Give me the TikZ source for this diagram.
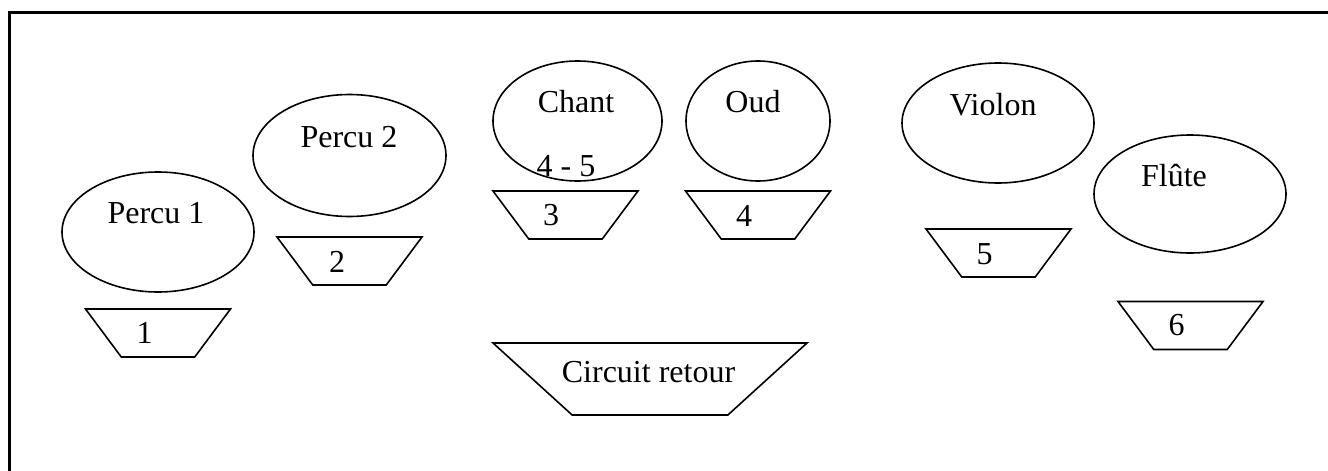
\documentclass[tikz,border=0pt]{standalone}
\usepackage{fontspec}
\setmainfont{Liberation Serif}
\usetikzlibrary{shapes.geometric}
\begin{document}
\begin{tikzpicture}[x = 1pt, y = -1pt,
    instru/.style = {draw, line width = 1.6pt, ellipse, inner sep = 0pt},
    retour/.style = {draw, line width = 1.6pt, trapezium, shape border rotate = 180, trapezium angle = 53.3, trapezium stretches body, minimum width = 145pt, inner xsep = 0pt, inner ysep = 24pt},
    txt/.style = {anchor = base, inner sep = 0pt, font = \fontsize{32}{38}\selectfont}]
    \useasboundingbox (0,0) rectangle (1328,471);
    % Cadre
    \draw[line width = 3pt] (9.5,471) -- (9.5,12.5) -- (1328,12.5);
    % Instruments
    \node[instru, minimum width = 192pt, minimum height = 120pt] (percu1) at (158,232) {};
    \node[txt] (tpercu1) at (156,223) {Percu 1};
    \node[instru, minimum width = 193pt, minimum height = 122pt] (percu2) at (349.5,155.5) {};
    \node[txt] (tpercu2) at (349,147) {Percu 2};
    \node[instru, minimum width = 169pt, minimum height = 120pt] (chant) at (577.5,121) {};
    \node[txt] (tchant) at (576,112) {Chant};
    \node[txt] (tchant45) at (566,176) {4 - 5};
    \node[instru, minimum width = 144pt, minimum height = 120pt] (oud) at (758,121) {};
    \node[txt] (toud) at (753,112) {Oud};
    \node[instru, minimum width = 192pt, minimum height = 120pt] (violon) at (998,123) {};
    \node[txt] (tviolon) at (993,115) {Violon};
    \node[instru, minimum width = 192pt, minimum height = 118pt] (flute) at (1190,194) {};
    \node[txt] (tflute) at (1174,186) {Flûte};
    % Retours
    \node[retour] (ret1) at (158,333) {};
    \node[txt] (tret1) at (144.5,343) {1};
    \node[retour] (ret2) at (349.5,261) {};
    \node[txt] (tret2) at (337,272) {2};
    \node[retour] (ret3) at (565.5,215) {};
    \node[txt] (tret3) at (551,225) {3};
    \node[retour] (ret4) at (758,215) {};
    \node[txt] (tret4) at (744,226) {4};
    \node[retour] (ret5) at (998.5,253) {};
    \node[txt] (tret5) at (984.5,264) {5};
    \node[retour] (ret6) at (1190.5,325.5) {};
    \node[txt] (tret6) at (1176.5,335) {6};
    % Circuit retour
    \node[retour, trapezium angle = 42.3, minimum width = 314pt, inner ysep = 36pt] (circuit) at (650,379) {};
    \node[txt] (tcircuit) at (648.5,382) {Circuit retour};
\end{tikzpicture}
\end{document}
